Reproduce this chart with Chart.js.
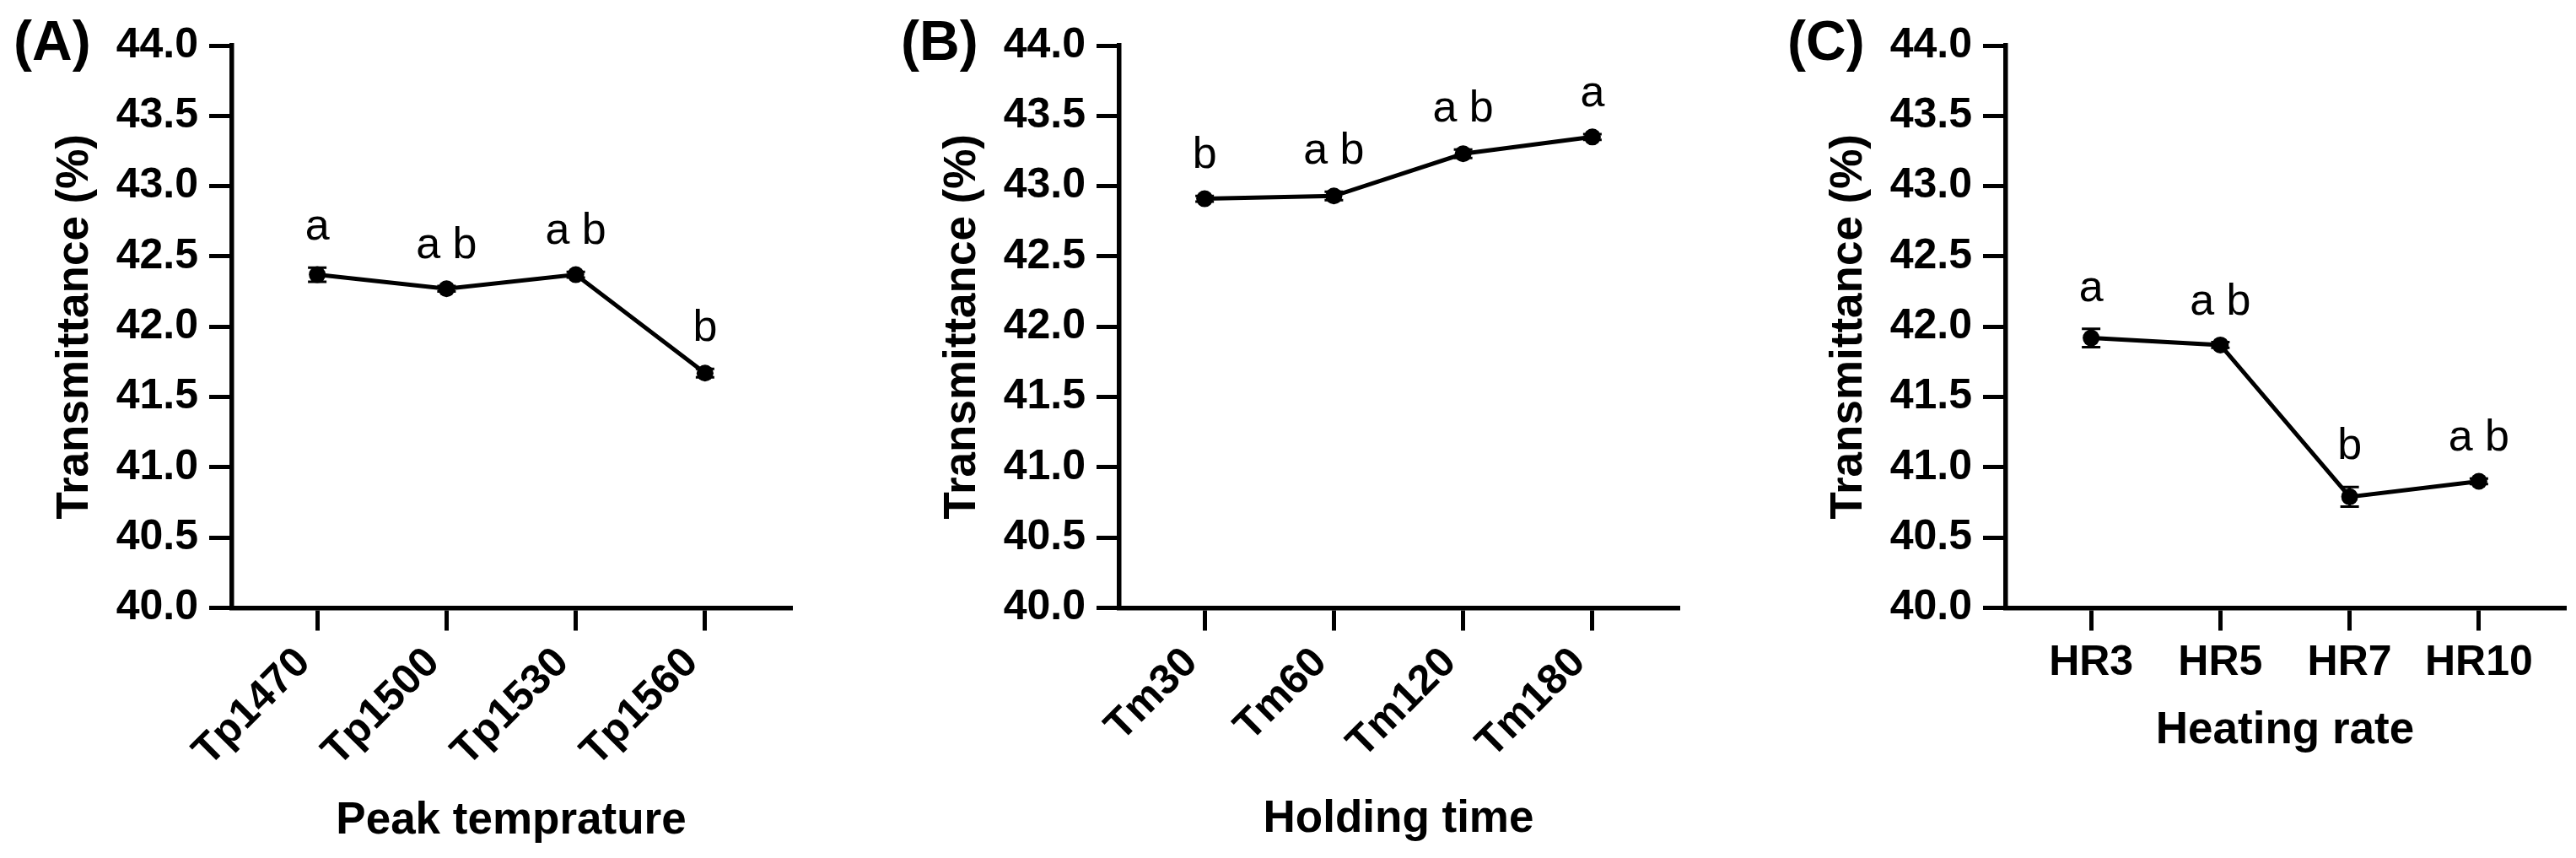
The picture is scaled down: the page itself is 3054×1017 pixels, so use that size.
<!DOCTYPE html>
<html>
<head>
<meta charset="utf-8">
<title>Transmittance panels</title>
<script src="https://cdn.jsdelivr.net/npm/chart.js@4.4.1/dist/chart.umd.min.js"></script>
<style>
  html, body { margin: 0; padding: 0; background: #fff; overflow: hidden; }
  #wrap { position: relative; width: 3054px; height: 1017px; }
  canvas { position: absolute; top: 0; }
</style>
</head>
<body>
<div id="wrap">
  <canvas id="panel-a" width="951" height="1017" style="left:0px"></canvas>
  <canvas id="panel-b" width="951" height="1017" style="left:1052px"></canvas>
  <canvas id="panel-c" width="951" height="1017" style="left:2103px"></canvas>
</div>
<script>
// Shared y axis ticks (%)
const yTickValues = [40.0, 40.5, 41.0, 41.5, 42.0, 42.5, 43.0, 43.5, 44.0];

// (A) Peak temperature
const peakLabels = ['Tp1470', 'Tp1500', 'Tp1530', 'Tp1560'];
const peakMeans = [42.37, 42.27, 42.37, 41.67];
const peakErrors = [0.05, 0.02, 0.02, 0.03];
const peakGroups = ['a', 'a b', 'a b', 'b'];

// (B) Holding time
const holdLabels = ['Tm30', 'Tm60', 'Tm120', 'Tm180'];
const holdMeans = [42.91, 42.93, 43.23, 43.35];
const holdErrors = [0.02, 0.03, 0.03, 0.02];
const holdGroups = ['b', 'a b', 'a b', 'a'];

// (C) Heating rate
const rateLabels = ['HR3', 'HR5', 'HR7', 'HR10'];
const rateMeans = [41.92, 41.87, 40.79, 40.90];
const rateErrors = [0.065, 0.02, 0.07, 0.02];
const rateGroups = ['a', 'a b', 'b', 'a b'];

const FONT = "'Liberation Sans', Arial, Helvetica, sans-serif";
Chart.defaults.font.family = FONT;
Chart.defaults.color = '#000';

/**
 * Draws error bars, significance letters and the panel tag
 */
const decoPlugin = {
  id: 'deco',
  afterDatasetsDraw(chart, args, opts) {
    const { ctx } = chart;
    const xs = chart.scales.x;
    const ys = chart.scales.y;
    ctx.save();
    ctx.strokeStyle = '#000';
    ctx.fillStyle = '#000';
    opts.means.forEach((m, i) => {
      const px = xs.getPixelForValue(i);
      const top = ys.getPixelForValue(m + opts.errors[i]);
      const bot = ys.getPixelForValue(m - opts.errors[i]);
      // error bar with caps
      ctx.lineWidth = 3;
      ctx.beginPath();
      ctx.moveTo(px, top);
      ctx.lineTo(px, bot);
      ctx.moveTo(px - 11, top);
      ctx.lineTo(px + 11, top);
      ctx.moveTo(px - 11, bot);
      ctx.lineTo(px + 11, bot);
      ctx.stroke();
      // group letters above the point
      ctx.font = '52px ' + FONT;
      ctx.textAlign = 'center';
      ctx.textBaseline = 'alphabetic';
      ctx.fillText(opts.groups[i], px, top - 33);
    });
    ctx.restore();
  },
  afterDraw(chart, args, opts) {
    const { ctx } = chart;
    ctx.save();
    ctx.fillStyle = '#000';
    ctx.font = 'bold 66px ' + FONT;
    ctx.textAlign = 'left';
    ctx.textBaseline = 'alphabetic';
    ctx.fillText(opts.tag, 16, 71);
    ctx.restore();
  }
};

/**
 * Builds one panel
 * @param {string} canvasId - canvas element id
 * @param {Object} cfg - labels, means, errors, groups, titles
 */
function buildPanel(canvasId, cfg) {
  const canvas = document.getElementById(canvasId);
  return new Chart(canvas, {
    type: 'line',
    data: {
      datasets: [{
        data: cfg.means.map((m, i) => ({ x: i, y: m })),
        borderColor: '#000',
        borderWidth: 5,
        pointRadius: 10,
        pointBackgroundColor: '#000',
        pointBorderWidth: 0,
        tension: 0,
        fill: false
      }]
    },
    options: {
      responsive: false,
      animation: false,
      layout: { padding: { top: 54, right: 14, left: 0, bottom: 0 } },
      plugins: {
        legend: { display: false },
        tooltip: { enabled: false },
        deco: { tag: cfg.tag, means: cfg.means, errors: cfg.errors, groups: cfg.groups }
      },
      scales: {
        x: {
          type: 'linear',
          min: -0.66,
          max: 3.66,
          afterBuildTicks: (s) => { s.ticks = cfg.labels.map((_, i) => ({ value: i })); },
          afterFit: (s) => { s.height = 296.5; },
          ticks: {
            autoSkip: false,
            minRotation: cfg.rotation,
            maxRotation: cfg.rotation,
            labelOffset: cfg.rotation ? -16 : 0,
            padding: 9,
            color: '#000',
            font: { size: 50, weight: 'bold' },
            callback: (v) => cfg.labels[Math.round(v)]
          },
          grid: { drawOnChartArea: false, drawTicks: true, tickLength: 27, lineWidth: 5, color: '#000' },
          border: { display: true, color: '#000', width: 5.5 },
          title: {
            display: true,
            text: cfg.xTitle,
            color: '#000',
            font: { size: 53, weight: 'bold' },
            padding: { top: 0, bottom: cfg.titlePad }
          }
        },
        y: {
          min: 40,
          max: 44,
          afterBuildTicks: (s) => { s.ticks = yTickValues.map(v => ({ value: v })); },
          afterFit: (s) => { s.width = 275; },
          ticks: {
            padding: 13,
            color: '#000',
            font: { size: 50, weight: 'bold' },
            callback: (v) => v.toFixed(1)
          },
          grid: { drawOnChartArea: false, drawTicks: true, tickLength: 27, lineWidth: 5, color: '#000' },
          border: { display: true, color: '#000', width: 5.5 },
          title: {
            display: true,
            text: 'Transmittance (%)',
            color: '#000',
            font: { size: 53, weight: 'bold' },
            padding: { top: 58, bottom: 0 }
          }
        }
      }
    },
    plugins: [decoPlugin]
  });
}

buildPanel('panel-a', {
  tag: '(A)', labels: peakLabels, means: peakMeans, errors: peakErrors, groups: peakGroups,
  xTitle: 'Peak temprature', rotation: 45, titlePad: 12
});
buildPanel('panel-b', {
  tag: '(B)', labels: holdLabels, means: holdMeans, errors: holdErrors, groups: holdGroups,
  xTitle: 'Holding time', rotation: 45, titlePad: 14
});
buildPanel('panel-c', {
  tag: '(C)', labels: rateLabels, means: rateMeans, errors: rateErrors, groups: rateGroups,
  xTitle: 'Heating rate', rotation: 0, titlePad: 119
});
</script>
</body>
</html>
